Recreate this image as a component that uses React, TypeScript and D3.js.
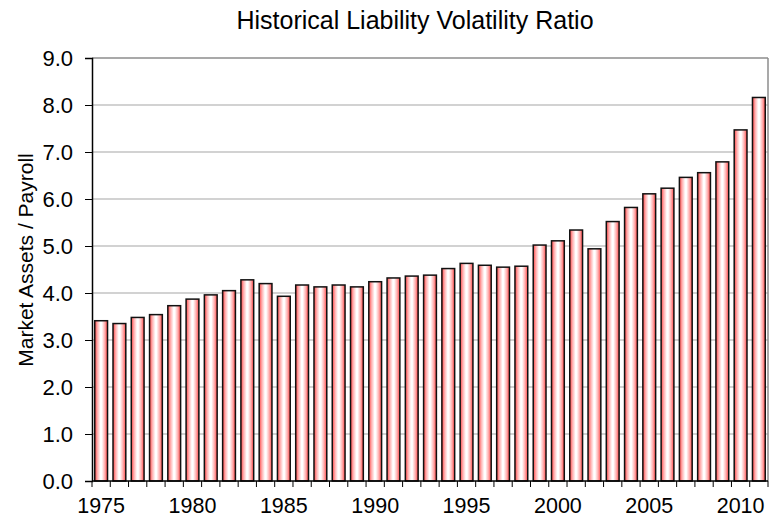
import React, { useEffect, useRef } from 'react';
import * as d3 from 'd3';

const years: number[] = d3.range(1975, 2012);
const ratios: number[] = [
  3.41, 3.35, 3.48, 3.54, 3.73, 3.87, 3.96, 4.05, 4.28, 4.2,
  3.93, 4.17, 4.13, 4.17, 4.13, 4.24, 4.32, 4.36, 4.38, 4.52,
  4.63, 4.59, 4.55, 4.57, 5.02, 5.11, 5.34, 4.94, 5.52, 5.82,
  6.11, 6.23, 6.46, 6.56, 6.79, 7.47, 8.16,
];
const yTicks: number[] = [0, 1, 2, 3, 4, 5, 6, 7, 8, 9];
const labeledYears: number[] = [1975, 1980, 1985, 1990, 1995, 2000, 2005, 2010];

export default function App() {
  const svgRef = useRef<SVGSVGElement>(null);

  useEffect(() => {
    if (!svgRef.current) return;
    const width = 770;
    const height = 519;
    const margin = { top: 58, right: 2, bottom: 38, left: 92 };
    const font = 'Liberation Sans, Arial, sans-serif';

    const svg = d3.select(svgRef.current);
    svg.selectAll('*').remove();

    const x = d3.scaleBand<number>()
      .domain(years)
      .range([margin.left, width - margin.right])
      .paddingInner(0.3)
      .paddingOuter(0.15);

    const y = d3.scaleLinear()
      .domain([0, 9])
      .range([height - margin.bottom, margin.top]);

    const defs = svg.append('defs');
    const grad = defs.append('linearGradient')
      .attr('id', 'bar-grad')
      .attr('x1', '0%').attr('y1', '0%')
      .attr('x2', '100%').attr('y2', '0%');
    [
      [0, '#ff4545'], [0.22, '#ffb0b0'], [0.45, '#ffffff'],
      [0.55, '#ffffff'], [0.78, '#ffb0b0'], [1, '#ff4545'],
    ].forEach(([o, c]) => grad.append('stop').attr('offset', o as number).attr('stop-color', c as string));

    // grid lines
    svg.append('g')
      .selectAll('line')
      .data(yTicks.filter(t => t > 0))
      .join('line')
      .attr('x1', margin.left)
      .attr('x2', width - margin.right)
      .attr('y1', d => y(d))
      .attr('y2', d => y(d))
      .attr('stroke', d => (d === 9 ? '#8c8c8c' : '#a6a6a6'))
      .attr('stroke-width', d => (d === 9 ? 1.5 : 1.2));

    // right border
    svg.append('line')
      .attr('x1', width - margin.right).attr('x2', width - margin.right)
      .attr('y1', y(9)).attr('y2', y(0))
      .attr('stroke', '#8c8c8c')
      .attr('stroke-width', 1.5);

    // bars
    svg.append('g')
      .selectAll('rect')
      .data(years)
      .join('rect')
      .attr('x', d => x(d)!)
      .attr('width', x.bandwidth())
      .attr('y', (d, i) => y(ratios[i]))
      .attr('height', (d, i) => y(0) - y(ratios[i]))
      .attr('fill', 'url(#bar-grad)')
      .attr('stroke', '#111')
      .attr('stroke-width', 1.5);

    // y axis
    const yAxis = svg.append('g')
      .attr('transform', `translate(${margin.left},0)`)
      .call(d3.axisLeft(y).tickValues(yTicks).tickFormat(d3.format('.1f')).tickSize(7).tickPadding(12));
    yAxis.select('.domain').attr('stroke', '#000').attr('stroke-width', 1.5);
    yAxis.selectAll('.tick line').attr('stroke', '#000');
    yAxis.selectAll('text')
      .attr('font-family', font)
      .attr('font-size', 22)
      .attr('fill', '#000');

    // x axis: ticks at category boundaries
    const step = x.step();
    const boundaries = d3.range(years.length + 1).map(i => margin.left + i * step);
    const xg = svg.append('g');
    xg.append('line')
      .attr('x1', margin.left).attr('x2', width - margin.right)
      .attr('y1', y(0)).attr('y2', y(0))
      .attr('stroke', '#000').attr('stroke-width', 1.5);
    xg.selectAll('line.tk')
      .data(boundaries)
      .join('line')
      .attr('class', 'tk')
      .attr('x1', d => d).attr('x2', d => d)
      .attr('y1', y(0)).attr('y2', y(0) + 6)
      .attr('stroke', '#000');
    xg.selectAll('text')
      .data(labeledYears)
      .join('text')
      .attr('x', d => x(d)! + x.bandwidth() / 2)
      .attr('y', y(0) + 32)
      .attr('text-anchor', 'middle')
      .attr('font-family', font)
      .attr('font-size', 21.5)
      .attr('fill', '#000')
      .text(d => String(d));

    // title
    svg.append('text')
      .attr('x', 415)
      .attr('y', 29)
      .attr('text-anchor', 'middle')
      .attr('font-family', font)
      .attr('font-size', 25)
      .attr('fill', '#000')
      .text('Historical Liability Volatility Ratio');

    // y label
    svg.append('text')
      .attr('transform', 'translate(33,260) rotate(-90)')
      .attr('text-anchor', 'middle')
      .attr('font-family', font)
      .attr('font-size', 21)
      .attr('fill', '#000')
      .text('Market Assets / Payroll');
  }, []);

  return (
    <div style={{ position: 'absolute', left: 0, top: 0 }}>
      <svg ref={svgRef} width={770} height={519} style={{ display: 'block', background: '#fff' }} />
    </div>
  );
}
